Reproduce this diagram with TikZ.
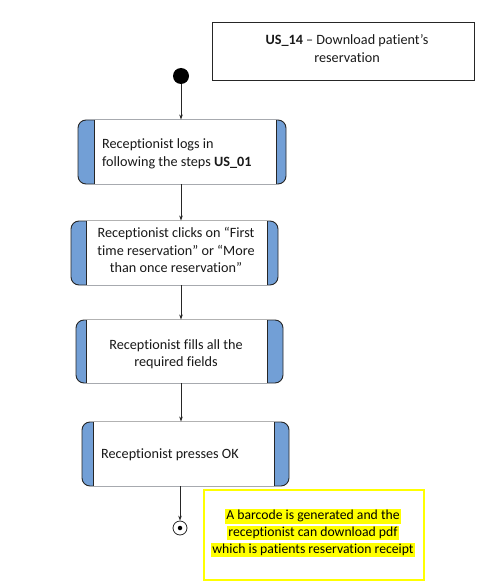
\documentclass[tikz,border=0pt]{standalone}
\usepackage{fontspec}
\setmainfont{Carlito}[Ligatures={NoCommon,TeX}]
\usetikzlibrary{arrows.meta}
\definecolor{barblue}{RGB}{114,159,214}
\definecolor{hl}{RGB}{255,255,0}
\tikzset{
  x=1pt, y=-1pt,
  outline/.style={draw=black!85, line width=0.9pt},
  actshape/.style={rectangle, rounded corners=8pt, fill=barblue, outline, inner sep=0pt},
  lbl/.style={font=\fontsize{14.2}{17.5}\selectfont, inner sep=0pt, text=black!90},
  arr/.style={draw=black!85, line width=0.7pt, -{Stealth[length=5pt,width=3.5pt]}},
}
\begin{document}
\begin{tikzpicture}
\useasboundingbox (0,0) rectangle (489,583);

% title
\node[draw=black!85, line width=0.8pt, minimum width=262pt, minimum height=58pt, inner sep=0pt] (title) at (343,51) {};
\node[lbl, align=center] (titletxt) at (347,48.5) {\textbf{US\_14} – Download patient’s\\reservation};

% start
\node[circle, fill=black, minimum size=16pt, inner sep=0pt] (start) at (181,76) {};

% box 1
\node[actshape, minimum width=208pt, minimum height=64pt] (b1) at (182,152) {};
\fill[white] (94,120) rectangle (276,184);
\draw[outline] (94,120) -- (94,184) (276,120) -- (276,184);
\node[lbl, align=left, anchor=west] (t1) at (102,154) {Receptionist logs in\\following the steps \textbf{US\_01}};

% box 2
\node[actshape, minimum width=207pt, minimum height=64pt] (b2) at (174.5,253) {};
\fill[white] (86,221) rectangle (267,285);
\draw[outline] (86,221) -- (86,285) (267,221) -- (267,285);
\node[lbl, align=center] (t2) at (176,250) {Receptionist clicks on “First\\time reservation” or “More\\than once reservation”};

% box 3
\node[actshape, minimum width=207pt, minimum height=63pt] (b3) at (179.5,351.5) {};
\fill[white] (86,320) rectangle (267,383);
\draw[outline] (86,320) -- (86,383) (267,320) -- (267,383);
\node[lbl, align=center] (t3) at (176,354) {Receptionist fills all the\\required fields};

% box 4
\node[actshape, minimum width=207pt, minimum height=64pt] (b4) at (185.5,454) {};
\fill[white] (93,422) rectangle (274,486);
\draw[outline] (93,422) -- (93,486) (274,422) -- (274,486);
\node[lbl, anchor=west] (t4) at (101,455) {Receptionist presses OK};

% end
\node[circle, draw=black!85, line width=0.8pt, minimum size=14pt, inner sep=0pt, fill=white] (endn) at (180,528) {};
\node[circle, fill=black, minimum size=4.5pt, inner sep=0pt] (enddot) at (endn.center) {};

% arrows
\draw[arr] (start) -- (b1.north -| start);
\draw[arr] (b1.south -| start) -- (b2.north -| start);
\draw[arr] (b2.south -| start) -- (b3.north -| start);
\draw[arr] (b3.south -| start) -- (b4.north -| start);
\draw[arr] (b4.south -| endn) -- (endn.north);

% note
\node[draw=hl, line width=1.2pt, minimum width=220pt, minimum height=90pt, inner sep=0pt] (note) at (314,535) {};
\node[inner sep=0pt, font=\fontsize{13.7}{20}\selectfont, align=center] (notetxt) at (313,533) {%
  \setlength{\fboxsep}{1.5pt}\colorbox{hl}{A barcode is generated and the}\\[-3pt]
  \setlength{\fboxsep}{1.5pt}\colorbox{hl}{receptionist can download pdf}\\[-3pt]
  \setlength{\fboxsep}{1.5pt}\colorbox{hl}{which is patients reservation receipt}};
\end{tikzpicture}
\end{document}
